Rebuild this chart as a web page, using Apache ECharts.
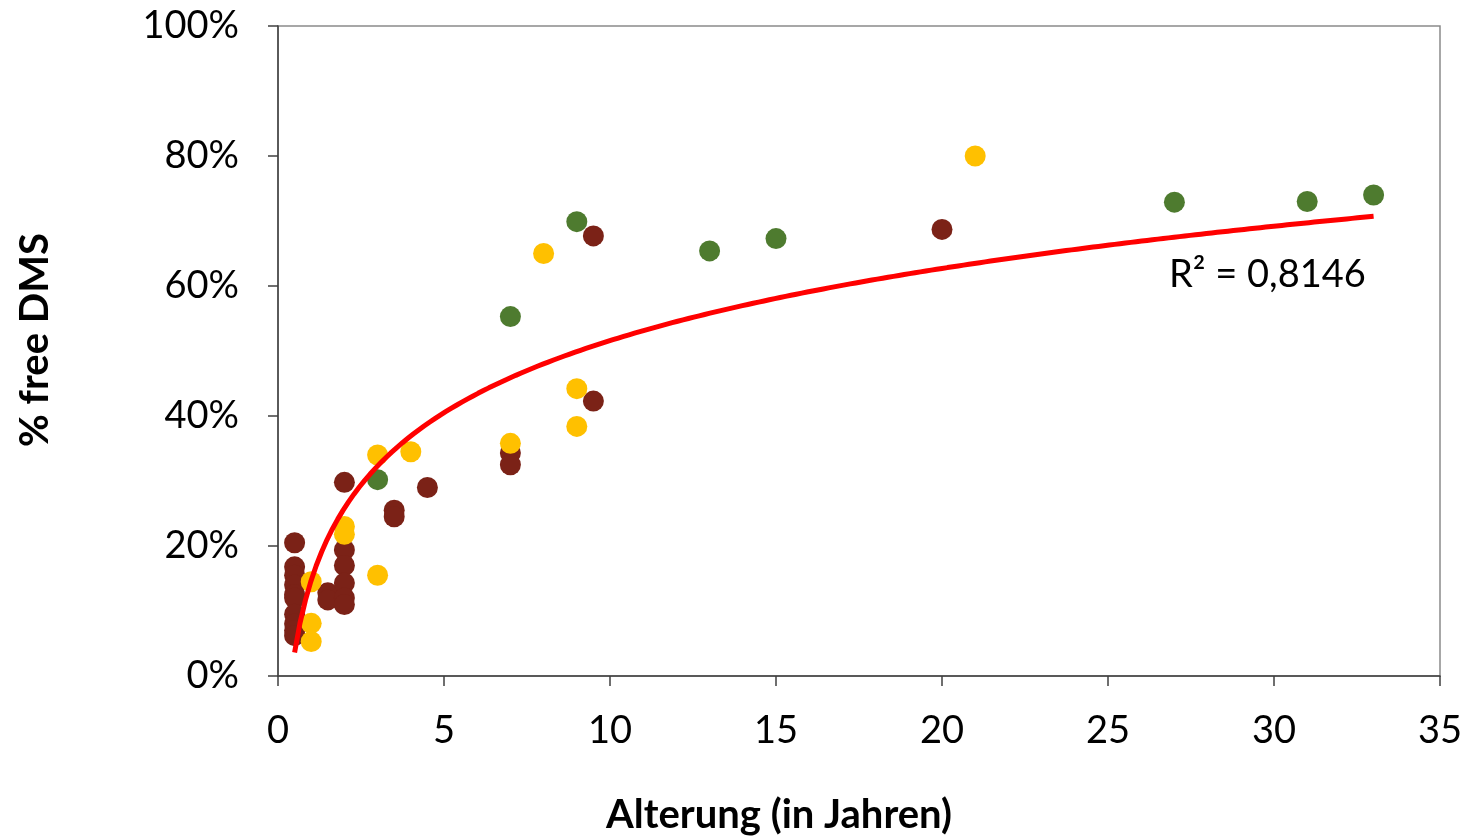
<!DOCTYPE html>
<html>
<head>
<meta charset="utf-8">
<script src="https://cdn.jsdelivr.net/npm/echarts@6/dist/echarts.min.js"></script>
<style>
  html, body { margin: 0; padding: 0; background: #fff; }
  #chart { width: 1468px; height: 836px; }
</style>
</head>
<body>
<div id="chart"></div>
<script>
// Messwerte [Alterung in Jahren, Anteil free DMS]
var brownPoints = [
  [0.5, 0.205], [0.5, 0.168], [0.5, 0.155], [0.5, 0.14], [0.5, 0.125], [0.5, 0.12],
  [0.5, 0.095], [0.5, 0.08], [0.5, 0.07], [0.5, 0.062],
  [1.5, 0.128], [1.5, 0.117],
  [2, 0.298], [2, 0.194], [2, 0.17], [2, 0.143], [2, 0.12], [2, 0.11],
  [3.5, 0.255], [3.5, 0.245], [4.5, 0.29],
  [7, 0.343], [7, 0.325], [9.5, 0.423], [9.5, 0.677], [20, 0.687]
];
var yellowPoints = [
  [1, 0.145], [1, 0.081], [1, 0.053], [2, 0.23], [2, 0.218],
  [3, 0.34], [3, 0.155], [4, 0.345], [7, 0.358], [8, 0.65],
  [9, 0.442], [9, 0.384], [21, 0.80]
];
var greenPoints = [
  [3, 0.302], [7, 0.553], [9, 0.699], [13, 0.654], [15, 0.673],
  [27, 0.729], [31, 0.73], [33, 0.74]
];
var xTicks = [0, 5, 10, 15, 20, 25, 30, 35];
var yTicks = [0, 0.2, 0.4, 0.6, 0.8, 1.0];
var rSquaredText = 'R² = 0,8146';

// logarithmische Trendlinie (kleinste Quadrate ueber alle Punkte)
var allPoints = brownPoints.concat(yellowPoints, greenPoints);
function logFit(pts) {
  var n = pts.length, sx = 0, sy = 0, sxx = 0, sxy = 0;
  pts.forEach(function (p) {
    var lx = Math.log(p[0]);
    sx += lx; sy += p[1]; sxx += lx * lx; sxy += lx * p[1];
  });
  var a = (n * sxy - sx * sy) / (n * sxx - sx * sx);
  var b = (sy - a * sx) / n;
  return { a: a, b: b };
}
var fit = logFit(allPoints);
var xs = allPoints.map(function (p) { return p[0]; });
var xMinData = Math.min.apply(null, xs), xMaxData = Math.max.apply(null, xs);
var trendLine = [];
for (var i = 0; i <= 200; i++) {
  var x = xMinData + (xMaxData - xMinData) * i / 200;
  trendLine.push([x, fit.a * Math.log(x) + fit.b]);
}

var fontFam = 'Lato, "Open Sans", sans-serif';
var myChart = echarts.init(document.getElementById('chart'));
var option = {
  animation: false,
  grid: {
    left: 278, right: 28, top: 26, bottom: 160,
    show: true,
    borderColor: '#8a8a8a',
    borderWidth: 1.5
  },
  xAxis: {
    type: 'value',
    min: xTicks[0],
    max: xTicks[xTicks.length - 1],
    interval: 5,
    splitLine: { show: false },
    axisLine: { show: true, onZero: false, lineStyle: { color: '#404040', width: 1.5 } },
    axisTick: { show: true, length: 10, lineStyle: { color: '#404040', width: 1.5 } },
    axisLabel: { color: '#000', fontSize: 38, fontFamily: fontFam, margin: 36 }
  },
  yAxis: {
    type: 'value',
    min: yTicks[0],
    max: yTicks[yTicks.length - 1],
    interval: 0.2,
    splitLine: { show: false },
    axisLine: { show: true, onZero: false, lineStyle: { color: '#404040', width: 1.5 } },
    axisTick: { show: true, length: 10, lineStyle: { color: '#404040', width: 1.5 } },
    axisLabel: {
      color: '#000', fontSize: 38, fontFamily: fontFam, margin: 39,
      formatter: function (v) { return Math.round(v * 100) + '%'; }
    }
  },
  graphic: [
    {
      type: 'text', x: 779, y: 815,
      style: { text: 'Alterung (in Jahren)', fontSize: 40, fontWeight: 'bold', fontFamily: fontFam, fill: '#000',
               align: 'center', verticalAlign: 'middle' }
    },
    {
      type: 'text', x: 35, y: 340, rotation: Math.PI / 2,
      style: { text: '% free DMS', fontSize: 40, fontWeight: 'bold', fontFamily: fontFam, fill: '#000',
               align: 'center', verticalAlign: 'middle' }
    },
    {
      type: 'text', left: 1169, top: 256,
      style: { text: rSquaredText, fontSize: 38, fontFamily: fontFam, fill: '#000' }
    }
  ],
  series: [
    {
      name: 'braun', type: 'scatter', data: brownPoints, symbolSize: 21,
      itemStyle: { color: '#7B2217', opacity: 1 }, z: 3
    },
    {
      name: 'gelb', type: 'scatter', data: yellowPoints, symbolSize: 21,
      itemStyle: { color: '#FFC000', opacity: 1 }, z: 3
    },
    {
      name: 'gruen', type: 'scatter', data: greenPoints, symbolSize: 21,
      itemStyle: { color: '#4E7B2F', opacity: 1 }, z: 3
    },
    {
      name: 'Trend', type: 'line', data: trendLine, showSymbol: false, smooth: false,
      lineStyle: { color: '#FF0000', width: 5 }, z: 4, silent: true
    }
  ]
};
myChart.setOption(option);
window.addEventListener('resize', function () { myChart.resize(); });
</script>
</body>
</html>
